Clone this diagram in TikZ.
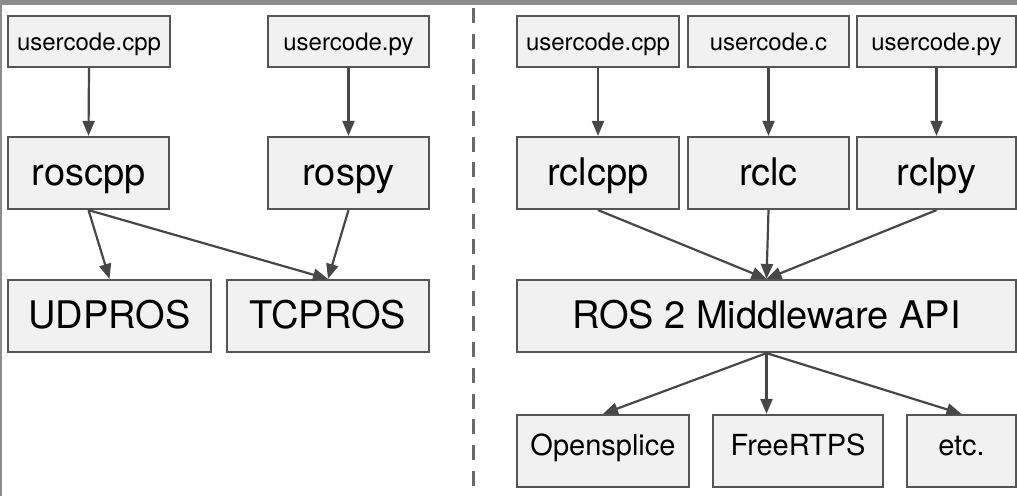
\documentclass[tikz,border=0pt]{standalone}
\usepackage{fontspec}
\setmainfont{TeX Gyre Heros}
\usetikzlibrary{arrows.meta}
\definecolor{boxfill}{HTML}{F1F1F1}
\definecolor{boxline}{HTML}{555555}
\definecolor{arrowc}{HTML}{474747}
\definecolor{bandc}{HTML}{8C8C8C}
\definecolor{sepc}{HTML}{6A6A6A}
\tikzset{
  box/.style={draw=boxline, fill=boxfill, line width=2.2pt, inner sep=0pt, minimum height=72pt},
  smallbox/.style={box, minimum height=51pt, font=\fontsize{24}{29}\selectfont, text height=20.5pt, text depth=3.5pt},
  bigbox/.style={box, font=\fontsize{38}{45}\selectfont, text height=31pt, text depth=7pt},
  midbox/.style={box, font=\fontsize{29}{35}\selectfont, text height=16pt, text depth=8pt},
  arr/.style={draw=arrowc, line width=2.2pt, -{Triangle[length=15pt,width=12pt]}},
  sep/.style={draw=sepc, line width=3pt, dash pattern=on 15pt off 10.7pt}
}
\begin{document}
\begin{tikzpicture}[x=1pt,y=-1pt]
\useasboundingbox (0,0) rectangle (1017,496);
\fill[white] (0,0) rectangle (1017,496);
\fill[bandc] (0,0) rectangle (1017,5);
\fill[bandc] (0,0) rectangle (2,496);
% left side
\node[smallbox, minimum width=162pt] (uc1) at (89,41.5) {usercode.cpp};
\node[smallbox, minimum width=161pt] (up1) at (348.5,41.5) {usercode.py};
\node[bigbox, minimum width=161pt] (roscpp) at (88.5,173) {roscpp};
\node[bigbox, minimum width=161pt] (rospy) at (348.5,173) {rospy};
\node[bigbox, minimum width=203pt] (udpros) at (109.5,316) {UDPROS};
\node[bigbox, minimum width=202pt] (tcpros) at (328,316) {TCPROS};
% separator
\coordinate (st) at (473.5,8);
\coordinate (sb) at (473.5,496);
\draw[sep] (st) -- (sb);
% right side
\node[smallbox, minimum width=162pt] (uc2) at (598,41.5) {usercode.cpp};
\node[smallbox, minimum width=161pt] (ucc) at (768.5,41.5) {usercode.c};
\node[smallbox, minimum width=159pt] (up2) at (936.5,41.5) {usercode.py};
\node[bigbox, minimum width=162pt] (rclcpp) at (598,173) {rclcpp};
\node[bigbox, minimum width=161pt] (rclc) at (768.5,173) {rclc};
\node[bigbox, minimum width=159pt] (rclpy) at (936.5,173) {rclpy};
\node[bigbox, minimum width=499pt] (mw) at (766.5,316) {ROS 2 Middleware API};
\node[midbox, minimum width=172pt] (ospl) at (603,451) {Opensplice};
\node[midbox, minimum width=170pt] (frtps) at (798,451) {FreeRTPS};
\node[midbox, minimum width=109pt] (etc) at (961.5,451) {etc.};
% arrows left
\draw[arr] (uc1.south) -- (roscpp.north);
\draw[arr] (up1.south) -- (rospy.north);
\draw[arr] (roscpp.south) -- (udpros.north);
\draw[arr] (roscpp.south) -- (tcpros.north);
\draw[arr] (rospy.south) -- (tcpros.north);
% arrows right
\draw[arr] (uc2.south) -- (rclcpp.north);
\draw[arr] (ucc.south) -- (rclc.north);
\draw[arr] (up2.south) -- (rclpy.north);
\draw[arr] (rclcpp.south) -- (mw.north);
\draw[arr] (rclc.south) -- (mw.north);
\draw[arr] (rclpy.south) -- (mw.north);
\draw[arr] (mw.south) -- (ospl.north);
\draw[arr] (mw.south) -- (mw.south |- frtps.north);
\draw[arr] (mw.south) -- (etc.north);
\end{tikzpicture}
\end{document}
